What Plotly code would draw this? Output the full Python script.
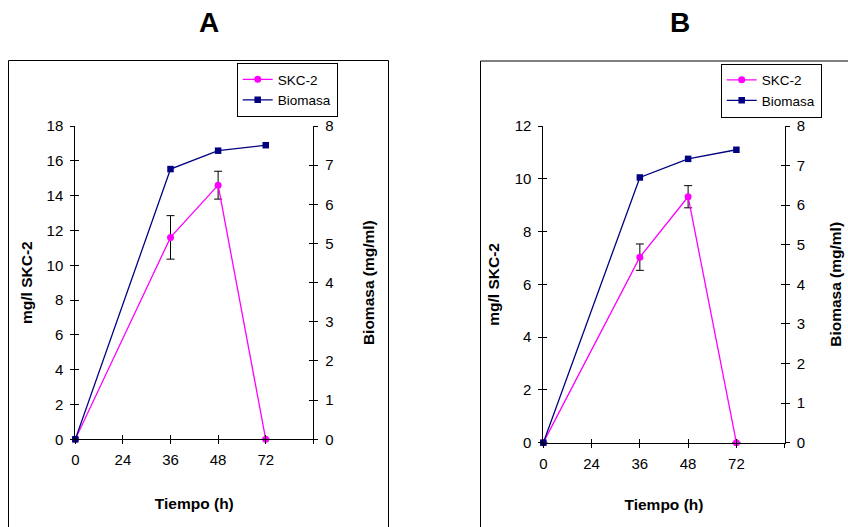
import plotly.graph_objects as go

# Sampling times (h) shown on the category axis; the last slot is left blank
tiempo_categorias = ["0", "24", "36", "48", "72", " "]
tiempo_muestras = ["0", "36", "48", "72"]

# Panel A
skc2_a = [0, 11.6, 14.6, 0]
skc2_err_a = [None, 1.25, 0.8, None]
biomasa_a = [0, 6.9, 7.37, 7.51]

# Panel B
skc2_b = [0, 7.03, 9.32, 0]
skc2_err_b = [None, 0.5, 0.42, None]
biomasa_b = [0, 6.70, 7.17, 7.40]

FONT = "Liberation Sans, Arial, sans-serif"
MAGENTA = "#FF00FF"
NAVY = "#000080"

fig = go.Figure()


def add_panel(xa, ya, ya2, skc2, err, biomasa, legend):
    fig.add_trace(go.Scatter(
        x=tiempo_muestras, y=skc2, name="SKC-2", mode="lines+markers",
        xaxis=xa, yaxis=ya, legend=legend, cliponaxis=False,
        line=dict(color=MAGENTA, width=1.3),
        marker=dict(symbol="circle", size=7, color=MAGENTA),
        error_y=dict(type="data", array=err, visible=True,
                     color="black", thickness=1, width=4),
    ))
    fig.add_trace(go.Scatter(
        x=tiempo_muestras, y=biomasa, name="Biomasa", mode="lines+markers",
        xaxis=xa, yaxis=ya2, legend=legend, cliponaxis=False,
        line=dict(color=NAVY, width=1.3),
        marker=dict(symbol="square", size=6.5, color=NAVY),
    ))


add_panel("x", "y", "y2", skc2_a, skc2_err_a, biomasa_a, "legend")
add_panel("x2", "y3", "y4", skc2_b, skc2_err_b, biomasa_b, "legend2")

# Empty traces so the inward tick axes are always rendered
for xa, ya in [("x3", "y5"), ("x3", "y6"), ("x4", "y7"), ("x4", "y8")]:
    fig.add_trace(go.Scatter(x=[None], y=[None], xaxis=xa, yaxis=ya,
                             showlegend=False, hoverinfo="skip"))

tick_font = dict(family=FONT, size=15, color="black")
title_font = dict(family=FONT, size=15.5, color="black")
TL = 4

dom_a = [0.0888, 0.3695]
dom_b = [0.6407, 0.9253]
ydom_a = [0.1664, 0.7609]
ydom_b = [0.1600, 0.7609]


def xaxis_main(domain, anchor, standoff):
    return dict(domain=domain, anchor=anchor, type="category",
                categoryorder="array", categoryarray=tiempo_categorias,
                range=[0, 5], showline=True, linecolor="black", linewidth=1,
                ticks="outside", ticklen=TL, tickcolor="black",
                ticklabelstandoff=3,
                showgrid=False, zeroline=False, tickfont=tick_font,
                title=dict(text="<b>Tiempo (h)</b>", font=title_font, standoff=standoff),
                automargin=False, fixedrange=True)


def xaxis_inner(overlay, anchor):
    return dict(overlaying=overlay, anchor=anchor, range=[0, 5],
                tickmode="linear", tick0=0, dtick=1, ticks="inside",
                ticklen=TL, tickcolor="black", showticklabels=False,
                showline=False, showgrid=False, zeroline=False,
                automargin=False, fixedrange=True)


def yaxis_main(domain, anchor, rng, dtick, side, title, standoff, overlay=None):
    d = dict(domain=domain, anchor=anchor, range=rng, dtick=dtick, tick0=0,
             side=side, showline=True, linecolor="black", linewidth=1,
             ticks="outside", ticklen=TL, tickcolor="black",
             ticklabelstandoff=4,
             showgrid=False, zeroline=False, tickfont=tick_font,
             title=dict(text=title, font=title_font, standoff=standoff),
             automargin=False, fixedrange=True)
    if overlay:
        d["overlaying"] = overlay
    return d


def yaxis_inner(overlay, anchor, rng, dtick, side):
    return dict(overlaying=overlay, anchor=anchor, range=rng, dtick=dtick,
                tick0=0, side=side, ticks="inside", ticklen=TL,
                tickcolor="black", showticklabels=False, showline=False,
                showgrid=False, zeroline=False, automargin=False,
                fixedrange=True)


legend_style = dict(xanchor="left", yanchor="top",
                    bgcolor="white", bordercolor="black", borderwidth=1,
                    font=dict(family=FONT, size=13.5, color="black"),
                    itemwidth=30, tracegroupgap=0)

fig.update_layout(
    width=848, height=527,
    margin=dict(l=0, r=0, t=0, b=0),
    template="none",
    paper_bgcolor="white", plot_bgcolor="rgba(0,0,0,0)",
    font=dict(family=FONT, color="black"),
    # Panel A
    xaxis=xaxis_main(dom_a, "y", 30),
    yaxis=yaxis_main(ydom_a, "x", [0, 18], 2, "left", "<b>mg/l SKC-2</b>", 10),
    yaxis2=yaxis_main(ydom_a, "x", [0, 8], 1, "right", "<b>Biomasa (mg/ml)</b>", 30, overlay="y"),
    # Panel B
    xaxis2=xaxis_main(dom_b, "y3", 28),
    yaxis3=yaxis_main(ydom_b, "x2", [0, 12], 2, "left", "<b>mg/l SKC-2</b>", 11),
    yaxis4=yaxis_main(ydom_b, "x2", [0, 8], 1, "right", "<b>Biomasa (mg/ml)</b>", 26, overlay="y3"),
    # Inward half of the crossing tick marks
    xaxis3=xaxis_inner("x", "y"),
    xaxis4=xaxis_inner("x2", "y3"),
    yaxis5=yaxis_inner("y", "x", [0, 18], 2, "left"),
    yaxis6=yaxis_inner("y", "x", [0, 8], 1, "right"),
    yaxis7=yaxis_inner("y3", "x2", [0, 12], 2, "left"),
    yaxis8=yaxis_inner("y3", "x2", [0, 8], 1, "right"),
    legend=dict(x=236.7 / 848, y=1 - 63 / 527, **legend_style),
    legend2=dict(x=720.7 / 848, y=1 - 63.5 / 527, **legend_style),
    shapes=[
        dict(type="rect", xref="paper", yref="paper",
             x0=8.5 / 848, x1=388.5 / 848, y0=-0.01, y1=1 - 60.5 / 527,
             line=dict(color="black", width=1), layer="below"),
        dict(type="rect", xref="paper", yref="paper",
             x0=480.5 / 848, x1=1.01, y0=-0.01, y1=1 - 61 / 527,
             line=dict(color="black", width=1), layer="below"),
    ],
    annotations=[
        dict(text="<b>A</b>", x=209 / 848, y=1 - 22 / 527, xref="paper", yref="paper",
             xanchor="center", yanchor="middle", showarrow=False,
             font=dict(family=FONT, size=28)),
        dict(text="<b>B</b>", x=680 / 848, y=1 - 22 / 527, xref="paper", yref="paper",
             xanchor="center", yanchor="middle", showarrow=False,
             font=dict(family=FONT, size=28)),
    ],
    showlegend=True,
)

fig.write_html("out.html")
